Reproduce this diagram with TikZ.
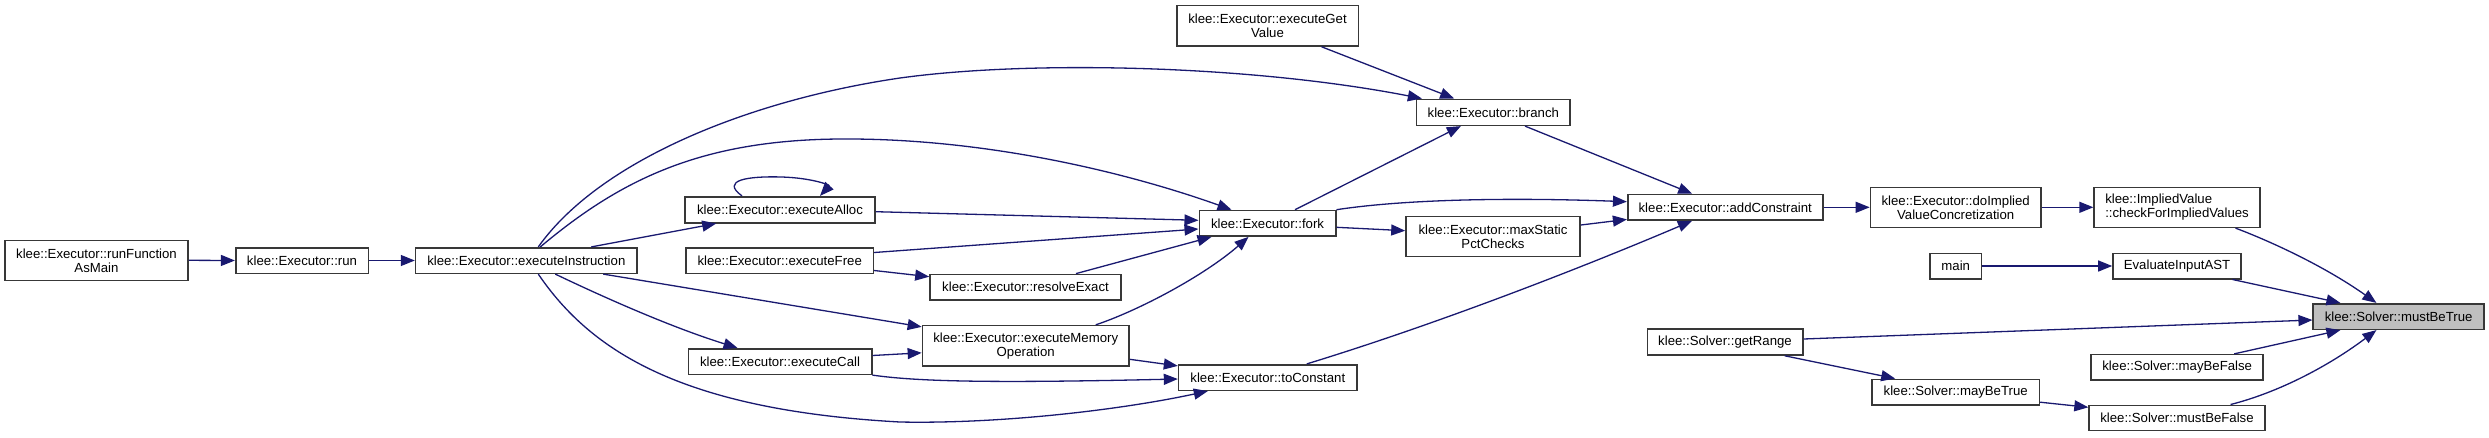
\documentclass[tikz,border=0pt]{standalone}
\usepackage{fontspec}
\setmainfont{Liberation Sans}
\usetikzlibrary{arrows.meta,calc}
\definecolor{edgecol}{HTML}{191970}
\definecolor{hlgray}{HTML}{BFBFBF}
\definecolor{boxline}{HTML}{383838}
\begin{document}
\begin{tikzpicture}[x=1pt,y=-1pt,
  box/.style={draw=boxline,line width=1.6pt,fill=white,rectangle,inner sep=0pt,align=center,
    font=\fontsize{13.2}{14}\selectfont},
  edge/.style={draw=edgecol,line width=1.3pt,-{Triangle[length=14pt,width=11pt]}},
  hl/.style={fill=hlgray}]
\fill[white] (0,0) rectangle (2489,437);
\useasboundingbox (0,0) rectangle (2489,437);
% nodes
\node[box,minimum width=183pt,minimum height=40pt] (rfm) at (96.5,260.3) {klee::Executor::runFunction\\AsMain};
\node[box,minimum width=132.6pt,minimum height=25.6pt] (run) at (302,260.5) {klee::Executor::run};
\node[box,minimum width=221.4pt,minimum height=25.6pt] (ei) at (526.3,260.5) {klee::Executor::executeInstruction};
\node[box,minimum width=190pt,minimum height=26pt] (alloc) at (780,209.7) {klee::Executor::executeAlloc};
\node[box,minimum width=187.3pt,minimum height=25.6pt] (free) at (779.7,260.5) {klee::Executor::executeFree};
\node[box,minimum width=183.4pt,minimum height=25.6pt] (call) at (780,361.5) {klee::Executor::executeCall};
\node[box,minimum width=191pt,minimum height=25.6pt] (resolve) at (1025.5,287.2) {klee::Executor::resolveExact};
\node[box,minimum width=206.5pt,minimum height=40.3pt] (memop) at (1025.7,345.8) {klee::Executor::executeMemory\\Operation};
\node[box,minimum width=181.6pt,minimum height=40.3pt] (getvalue) at (1267.5,25.8) {klee::Executor::executeGet\\Value};
\node[box,minimum width=136.4pt,minimum height=25.6pt] (fork) at (1267.5,223.3) {klee::Executor::fork};
\node[box,minimum width=178.4pt,minimum height=25.6pt] (toconst) at (1267.8,377.5) {klee::Executor::toConstant};
\node[box,minimum width=153.3pt,minimum height=26pt] (branch) at (1493.3,112.3) {klee::Executor::branch};
\node[box,minimum width=174pt,minimum height=40pt] (maxstatic) at (1493,236.3) {klee::Executor::maxStatic\\PctChecks};
\node[box,minimum width=195pt,minimum height=25.6pt] (addc) at (1725.2,207.3) {klee::Executor::addConstraint};
\node[box,minimum width=155.4pt,minimum height=26pt] (getrange) at (1725,342) {klee::Solver::getRange};
\node[box,minimum width=170.5pt,minimum height=40pt] (doimpl) at (1955.7,207.3) {klee::Executor::doImplied\\ValueConcretization};
\node[box,minimum width=51.5pt,minimum height=25.4pt] (main) at (1955.7,266) {main};
\node[box,minimum width=167.4pt,minimum height=25.7pt] (maybetrue) at (1955.7,392.2) {klee::Solver::mayBeTrue};
\node[box,minimum width=165.7pt,minimum height=40pt,align=left] (checkimpl) at (2177,207.3) {klee::ImpliedValue\\::checkForImpliedValues};
\node[box,minimum width=128pt,minimum height=25.4pt] (evalast) at (2177,266) {EvaluateInputAST};
\node[box,minimum width=172pt,minimum height=25.3pt] (maybefalse) at (2177.2,367.3) {klee::Solver::mayBeFalse};
\node[box,minimum width=175.8pt,minimum height=25pt] (mustbefalse) at (2177,417.8) {klee::Solver::mustBeFalse};
\node[box,hl,minimum width=170.8pt,minimum height=25.6pt] (mustbetrue) at (2398.6,316.5) {klee::Solver::mustBeTrue};
% edges
\draw[edge] (rfm.east) -- (run.west);
\draw[edge] (run.east) -- (ei.west);
\draw[edge] ($(ei.north)+(12,0)$) .. controls (600,160) and (750,100) .. (900,78)
  .. controls (1030,60) and (1250,65) .. ($(branch.north west)+(6,0)$);
\draw[edge] ($(ei.north)+(14,0)$) .. controls (620,180) and (700,140) .. (840,139)
  .. controls (980,138) and (1120,170) .. ($(fork.north west)+(33,0)$);
\draw[edge] ($(ei.north)+(65,0)$) -- ($(alloc.south west)+(32,0)$);
\draw[edge] ($(alloc.north)+(-38,0)$) .. controls (720,180) and (748,176) .. (782,177)
  .. controls (812,178) and (830,185) .. ($(alloc.north)+(40,0)$);
\draw[edge] ($(alloc.east)+(0,2)$) -- ($(fork.west)+(0,-3)$);
\draw[edge] ($(free.east)+(0,-8)$) -- ($(fork.west)+(0,5.7)$);
\draw[edge] ($(free.east)+(0,10)$) -- ($(resolve.west)+(0,-10.5)$);
\draw[edge] ($(resolve.north)+(50.5,0)$) -- ($(fork.south west)+(13,0)$);
\draw[edge] ($(memop.north)+(70,0)$) .. controls (1140,310) and (1205,275) .. ($(fork.south west)+(50,0)$);
\draw[edge] ($(ei.south)+(77,0)$) -- ($(memop.north west)+(0,2)$);
\draw[edge] ($(ei.south)+(29,0)$) .. controls (620,305) and (680,330) .. ($(call.north west)+(50,0)$);
\draw[edge] ($(ei.south)+(12,0)$) .. controls (590,350) and (680,410) .. (900,422)
  .. controls (1000,424) and (1120,410) .. ($(toconst.south west)+(30,0)$);
\draw[edge] ($(call.east)+(0,-6)$) -- ($(memop.west)+(0,7)$);
\draw[edge] (call.south east) .. controls (920,382) and (1000,383) .. ($(toconst.west)+(0,1.5)$);
\draw[edge] ($(memop.east)+(0,13.5)$) -- ($(toconst.north west)+(0,2)$);
\draw[edge] ($(toconst.north)+(39,0)$) .. controls (1450,320) and (1600,260) .. ($(addc.south west)+(65,0)$);
\draw[edge] ($(fork.north)+(27.5,0)$) -- ($(branch.south west)+(45,0)$);
\draw[edge] ($(getvalue.south)+(54,0)$) -- ($(branch.north west)+(38.3,0)$);
\draw[edge] ($(branch.south)+(31.7,0)$) -- ($(addc.north west)+(65.3,0)$);
\draw[edge] (fork.north east) .. controls (1400,200) and (1500,197) .. ($(addc.west)+(0,-5.6)$);
\draw[edge] ($(fork.east)+(0,4)$) -- ($(maxstatic.west)+(0,-5.6)$);
\draw[edge] ($(maxstatic.east)+(0,-11.3)$) -- ($(addc.south west)+(0,-1.5)$);
\draw[edge] (addc.east) -- (doimpl.west);
\draw[edge] (doimpl.east) -- (checkimpl.west);
\draw[edge] ($(checkimpl.south)+(58.5,0)$) .. controls (2280,245) and (2330,270) .. ($(mustbetrue.north west)+(64,0)$);
\draw[edge] (main.east) -- (evalast.west);
\draw[edge] ($(evalast.south)+(55.5,0)$) -- ($(mustbetrue.north west)+(28,0)$);
\draw[edge] ($(getrange.east)+(0,-3)$) -- ($(mustbetrue.west)+(0,3.5)$);
\draw[edge] ($(getrange.south east)+(-18.7,0)$) -- ($(maybetrue.north west)+(24,0)$);
\draw[edge] ($(maybefalse.north)+(57,0)$) -- ($(mustbetrue.south west)+(28,0)$);
\draw[edge] ($(mustbefalse.north)+(53.6,0)$) .. controls (2280,392) and (2330,365) .. ($(mustbetrue.south west)+(64,0)$);
\draw[edge] ($(maybetrue.east)+(0,10)$) -- ($(mustbefalse.west)+(0,-10.5)$);
\end{tikzpicture}
\end{document}
